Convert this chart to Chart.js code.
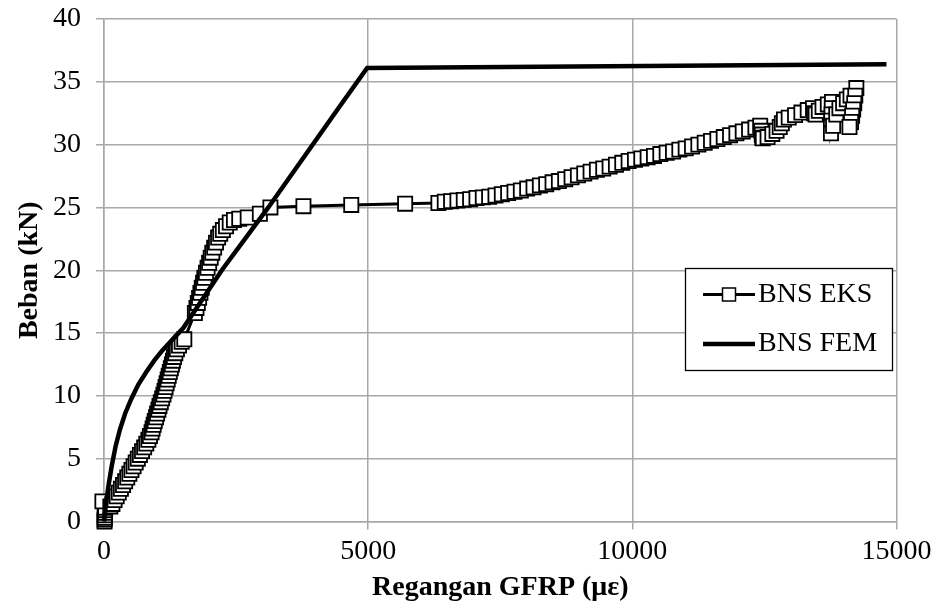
<!DOCTYPE html>
<html>
<head>
<meta charset="utf-8">
<script src="https://cdn.jsdelivr.net/npm/chart.js@4.4.1/dist/chart.umd.min.js"></script>
<style>
  html, body { margin: 0; padding: 0; background: #ffffff; }
  #wrap { width: 936px; height: 610px; }
</style>
</head>
<body>
<div id="wrap"><canvas id="c" width="936" height="610"></canvas></div>
<script>
// ---- data ----
const seriesLabels = ["BNS EKS", "BNS FEM"];

const eksStrain = [
  10, 12, 15, 15, 18, 20, 22, -30,
  120, 160, 200, 240, 280, 320, 360, 400, 440, 480, 520, 560, 600, 640, 680, 720, 760, 800, 840, 870, 900, 920,
  940, 960, 985, 1005, 1030, 1050, 1075, 1100, 1125, 1145, 1165, 1185, 1205, 1225, 1245, 1265, 1285, 1305, 1325, 1350,
  1380, 1420, 1470, 1520,
  1720, 1750, 1775, 1800, 1825, 1850, 1875, 1900, 1930, 1960, 1990, 2020, 2050, 2085, 2120, 2160, 2200, 2250, 2310, 2380,
  2460, 2560, 2720, 2950, 3150, 3775, 4680, 5700, 6330,
  6450, 6570, 6690, 6810, 6930, 7050, 7170, 7290, 7410, 7530, 7650, 7770, 7890, 8010, 8130, 8250, 8370, 8490, 8610, 8730,
  8850, 8970, 9090, 9210, 9330, 9450, 9570, 9690, 9810, 9930, 10050, 10170, 10290, 10410, 10530, 10650, 10770, 10890, 11010, 11130,
  11250, 11370, 11490, 11610, 11730, 11850, 11970, 12090, 12210, 12330, 12420,
  12440, 12450, 12460, 12470, 12560, 12650, 12730, 12790, 12830, 12870,
  12960, 13080, 13200, 13320, 13420, 13440, 13470, 13530, 13600, 13700, 13780,
  13775, 13770, 13765, 13760, 13760, 13800, 13860, 13920, 13990, 14060, 14130, 14240,
  14220, 14200, 14180, 14160, 14140, 14110
];
const eksLoad = [
  0, 0.15, 0.3, 0.5, 0.7, 0.9, 1.1, 1.6,
  1.2, 1.4, 1.7, 2.0, 2.3, 2.6, 2.9, 3.2, 3.5, 3.8, 4.1, 4.4, 4.7, 5.0, 5.3, 5.6, 5.9, 6.2, 6.5, 6.8, 7.1, 7.4,
  7.7, 8.0, 8.3, 8.6, 8.9, 9.2, 9.5, 9.8, 10.1, 10.4, 10.7, 11.0, 11.3, 11.6, 11.9, 12.2, 12.5, 12.8, 13.1, 13.4,
  13.7, 14.0, 14.3, 14.5,
  16.6, 17.0, 17.4, 17.8, 18.2, 18.6, 19.0, 19.4, 19.8, 20.2, 20.6, 21.0, 21.4, 21.8, 22.2, 22.6, 22.9, 23.2, 23.5, 23.8,
  24.0, 24.1, 24.2, 24.5, 25.0, 25.1, 25.2, 25.3, 25.35,
  25.45, 25.5, 25.55, 25.6, 25.65, 25.75, 25.8, 25.85, 25.95, 26.05, 26.15, 26.25, 26.35, 26.5, 26.6, 26.75, 26.85, 27.0, 27.1, 27.25,
  27.4, 27.55, 27.7, 27.85, 28.0, 28.1, 28.25, 28.4, 28.55, 28.7, 28.8, 28.9, 29.0, 29.1, 29.25, 29.35, 29.45, 29.6, 29.7, 29.85,
  30.0, 30.15, 30.3, 30.45, 30.6, 30.75, 30.9, 31.05, 31.2, 31.35, 31.5,
  31.1, 30.8, 30.55, 30.5, 30.6, 30.85, 31.1, 31.4, 31.7, 32.0,
  32.15, 32.35, 32.55, 32.75, 32.9, 32.5, 32.4, 32.7, 33.0, 33.2, 33.4,
  32.9, 32.4, 31.9, 31.4, 30.9, 31.5, 32.4, 32.9, 33.3, 33.6, 33.9, 34.5,
  33.9, 33.3, 32.8, 32.3, 31.8, 31.4
];

const femStrain = [0, 40, 90, 150, 220, 300, 400, 520, 650, 800, 950, 1100, 1300, 1500, 2230, 3110, 4470, 4980, 14810];
const femLoad   = [0, 1.5, 3.0, 4.5, 6.0, 7.3, 8.6, 9.8, 10.9, 11.9, 12.8, 13.6, 14.5, 15.4, 20.0, 25.0, 33.1, 36.1, 36.4];

const xAxisTitle = "Regangan GFRP (\u03bc\u03b5)";
const yAxisTitle = "Beban (kN)";
const xMin = 0, xMax = 15000, xStep = 5000;
const yMin = 0, yMax = 40, yStep = 5;

// ---- build chart ----
const toPoints = (xs, ys) => xs.map((x, i) => ({ x: x, y: ys[i] }));
const FONT = "'Liberation Serif', 'Times New Roman', serif";
const GRID = '#a8a8a8';

const boxLegend = {
  id: 'boxLegend',
  afterDraw(chart) {
    const ctx = chart.ctx;
    const ds = chart.data.datasets;
    const bx = 685.5, by = 268.5, bw = 207, bh = 102;
    ctx.save();
    ctx.fillStyle = '#ffffff';
    ctx.fillRect(bx, by, bw, bh);
    ctx.strokeStyle = '#000000';
    ctx.lineWidth = 1.3;
    ctx.strokeRect(bx, by, bw, bh);
    const rows = [294.5, 344];
    ds.forEach((d, i) => {
      const y = rows[i];
      ctx.strokeStyle = d.borderColor;
      ctx.lineWidth = d.borderWidth;
      ctx.beginPath();
      ctx.moveTo(703, y);
      ctx.lineTo(755, y);
      ctx.stroke();
      if (d.pointRadius > 0) {
        ctx.fillStyle = d.pointBackgroundColor;
        ctx.lineWidth = 1.5;
        ctx.strokeStyle = d.pointBorderColor;
        ctx.fillRect(722.5, y - 6.5, 13, 13);
        ctx.strokeRect(722.5, y - 6.5, 13, 13);
      }
      ctx.fillStyle = '#000000';
      ctx.font = '28px ' + FONT;
      ctx.textAlign = 'left';
      ctx.textBaseline = 'middle';
      ctx.fillText(d.label, 758, y);
    });
    ctx.restore();
  }
};

new Chart(document.getElementById('c'), {
  type: 'scatter',
  data: {
    datasets: [
      {
        label: seriesLabels[0],
        data: toPoints(eksStrain, eksLoad),
        showLine: true,
        borderColor: '#000000',
        borderWidth: 3,
        pointStyle: 'rect',
        pointRadius: 10,
        pointBackgroundColor: '#ffffff',
        pointBorderColor: '#000000',
        pointBorderWidth: 1.8,
        tension: 0,
        order: 1,
        clip: false
      },
      {
        label: seriesLabels[1],
        data: toPoints(femStrain, femLoad),
        showLine: true,
        borderColor: '#000000',
        borderWidth: 4.5,
        pointRadius: 0,
        tension: 0,
        order: 0,
        clip: false
      }
    ]
  },
  options: {
    responsive: false,
    animation: false,
    devicePixelRatio: 1,
    layout: { padding: { left: 0, right: 39.5, top: 19, bottom: 0 } },
    plugins: {
      legend: { display: false },
      tooltip: { enabled: false }
    },
    scales: {
      x: {
        type: 'linear',
        min: xMin, max: xMax,
        ticks: { stepSize: xStep, color: '#000', padding: 5, maxRotation: 0, font: { family: FONT, size: 28 },
                 callback: (v) => String(v) },
        grid: { color: GRID, lineWidth: 1.5, tickLength: 8, tickColor: GRID },
        border: { color: GRID, width: 1.5 },
        title: { display: true, text: xAxisTitle, color: '#000', padding: { top: 0, bottom: 5 }, font: { family: FONT, size: 28, weight: 'bold' } },
        afterFit(scale) { scale.height = 88.5; scale.paddingLeft = 0; scale.paddingRight = 0; }
      },
      y: {
        type: 'linear',
        min: yMin, max: yMax,
        ticks: { stepSize: yStep, color: '#000', padding: 15, font: { family: FONT, size: 28 },
                 callback: (v) => String(v) },
        grid: { color: GRID, lineWidth: 1.5, tickLength: 8, tickColor: GRID },
        border: { color: GRID, width: 1.5 },
        title: { display: true, text: yAxisTitle, color: '#000', padding: { top: 13, bottom: 0 }, font: { family: FONT, size: 28, weight: 'bold' } },
        afterFit(scale) { scale.width = 104; scale.paddingTop = 0; scale.paddingBottom = 0; }
      }
    }
  },
  plugins: [boxLegend]
});
</script>
</body>
</html>
